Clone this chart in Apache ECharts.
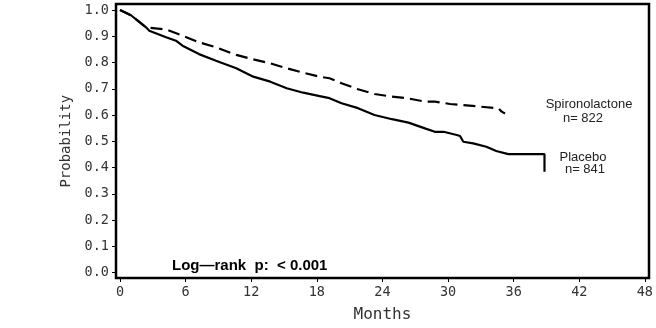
<!DOCTYPE html>
<html>
<head>
<meta charset="utf-8">
<script src="https://cdn.jsdelivr.net/npm/echarts@6/dist/echarts.min.js"></script>
<style>html,body{margin:0;padding:0;background:#fff;}#c{width:656px;height:328px;}</style>
</head>
<body>
<div id="c"></div>
<script>
// Kaplan-Meier style survival estimates (month, probability)
var placeboData = [[0,1.0],[1,0.98],[2.37,0.934],[2.67,0.921],[4.2,0.896],[5.1,0.883],[5.7,0.864],[7.2,0.832],[8.75,0.807],[10.6,0.778],[12.15,0.746],[13.7,0.727],[15.2,0.702],[16.7,0.685],[18.2,0.672],[19.1,0.664],[20.2,0.645],[21.7,0.626],[23.2,0.600],[24.8,0.584],[26.3,0.571],[27.8,0.549],[28.7,0.536],[29.5,0.536],[30.7,0.524],[31.0,0.520],[31.3,0.498],[32.2,0.492],[33.4,0.479],[34.3,0.463],[35.4,0.451],[38.7,0.451],[38.7,0.384]];
var spiroData = [[0,1.0],[1,0.98],[2.37,0.934],[4.2,0.926],[5.7,0.902],[7.2,0.877],[8.75,0.858],[10.6,0.829],[12.15,0.812],[13.7,0.797],[15.2,0.778],[16.7,0.761],[18.2,0.746],[19.1,0.740],[20.2,0.721],[21.7,0.698],[23.2,0.680],[24.8,0.670],[26.3,0.663],[27.8,0.651],[28.7,0.651],[30.1,0.642],[32.8,0.632],[34.5,0.625],[34.8,0.613],[35.1,0.606]];
var xTicks = [0,6,12,18,24,30,36,42,48];
var yTicks = [0,0.1,0.2,0.3,0.4,0.5,0.6,0.7,0.8,0.9,1.0];
var groupLabels = ['Spironolactone','n= 822','Placebo','n= 841'];
var pText = 'Log\u2014rank  p:  < 0.001';

var chart = echarts.init(document.getElementById('c'), null, {renderer:'canvas'});
var mono = 'DejaVu Sans Mono';
var xMin = xTicks[0], xMax = xTicks[xTicks.length-1];
var yMin = yTicks[0], yMax = yTicks[yTicks.length-1];
chart.setOption({
  animation:false,
  backgroundColor:'#fff',
  grid:[
    {left:120, top:10, width:526.5, height:262.5, show:false},   // data
    {left:120, top:10, width:526.5, height:268.5, show:false},   // x axis display
    {left:116, top:10, width:530.5, height:262.5, show:false}    // y axis display
  ],
  xAxis:[
    {type:'value', gridIndex:0, min:xMin, max:xMax, show:false},
    {type:'value', gridIndex:1, min:xMin, max:xMax, interval:6,
     axisLine:{show:false}, splitLine:{show:false},
     axisTick:{show:true, inside:false, length:4, lineStyle:{color:'#000', width:1}},
     axisLabel:{margin:7, fontFamily:mono, fontSize:13.5, color:'#333'},
     name:'Months', nameLocation:'middle', nameGap:29,
     nameTextStyle:{fontFamily:mono, fontSize:16, color:'#333'}},
    {type:'value', gridIndex:2, min:0, max:1, show:false}
  ],
  yAxis:[
    {type:'value', gridIndex:0, min:yMin, max:yMax, show:false},
    {type:'value', gridIndex:1, min:yMin, max:yMax, show:false},
    {type:'value', gridIndex:2, min:yMin, max:yMax, interval:0.1,
     axisLine:{show:false}, splitLine:{show:false},
     axisTick:{show:true, inside:false, length:4, lineStyle:{color:'#000', width:1}},
     axisLabel:{margin:7, fontFamily:mono, fontSize:13.5, color:'#333', formatter:function(v){return v.toFixed(1);}},
     name:'Probability', nameLocation:'middle', nameGap:40, nameRotate:90,
     nameTextStyle:{fontFamily:mono, fontSize:14, color:'#333'}}
  ],
  series:[
    {type:'line', xAxisIndex:0, yAxisIndex:0, data:placeboData, showSymbol:false, symbol:'none',
     lineStyle:{color:'#000', width:2.2}},
    {type:'line', xAxisIndex:0, yAxisIndex:0, data:spiroData, showSymbol:false, symbol:'none',
     lineStyle:{color:'#000', width:2.2, type:[12,6]}}
  ],
  graphic:[
    {type:'rect', shape:{x:116, y:4, width:533, height:274}, style:{fill:'none', stroke:'#000', lineWidth:2.5}, silent:true, z:10},
    {type:'text', x:589, y:104.5, style:{text:groupLabels[0], font:'13px "Liberation Sans", Arial', fill:'#222', textAlign:'center', textVerticalAlign:'middle'}},
    {type:'text', x:583, y:118, style:{text:groupLabels[1], font:'13px "Liberation Sans", Arial', fill:'#222', textAlign:'center', textVerticalAlign:'middle'}},
    {type:'text', x:583, y:157, style:{text:groupLabels[2], font:'13px "Liberation Sans", Arial', fill:'#222', textAlign:'center', textVerticalAlign:'middle'}},
    {type:'text', x:585, y:169, style:{text:groupLabels[3], font:'13px "Liberation Sans", Arial', fill:'#222', textAlign:'center', textVerticalAlign:'middle'}},
    {type:'text', x:172, y:266, style:{text:pText, font:'bold 15px "Liberation Sans", Arial', fill:'#000', textAlign:'left', textVerticalAlign:'middle'}}
  ]
});
</script>
</body>
</html>
